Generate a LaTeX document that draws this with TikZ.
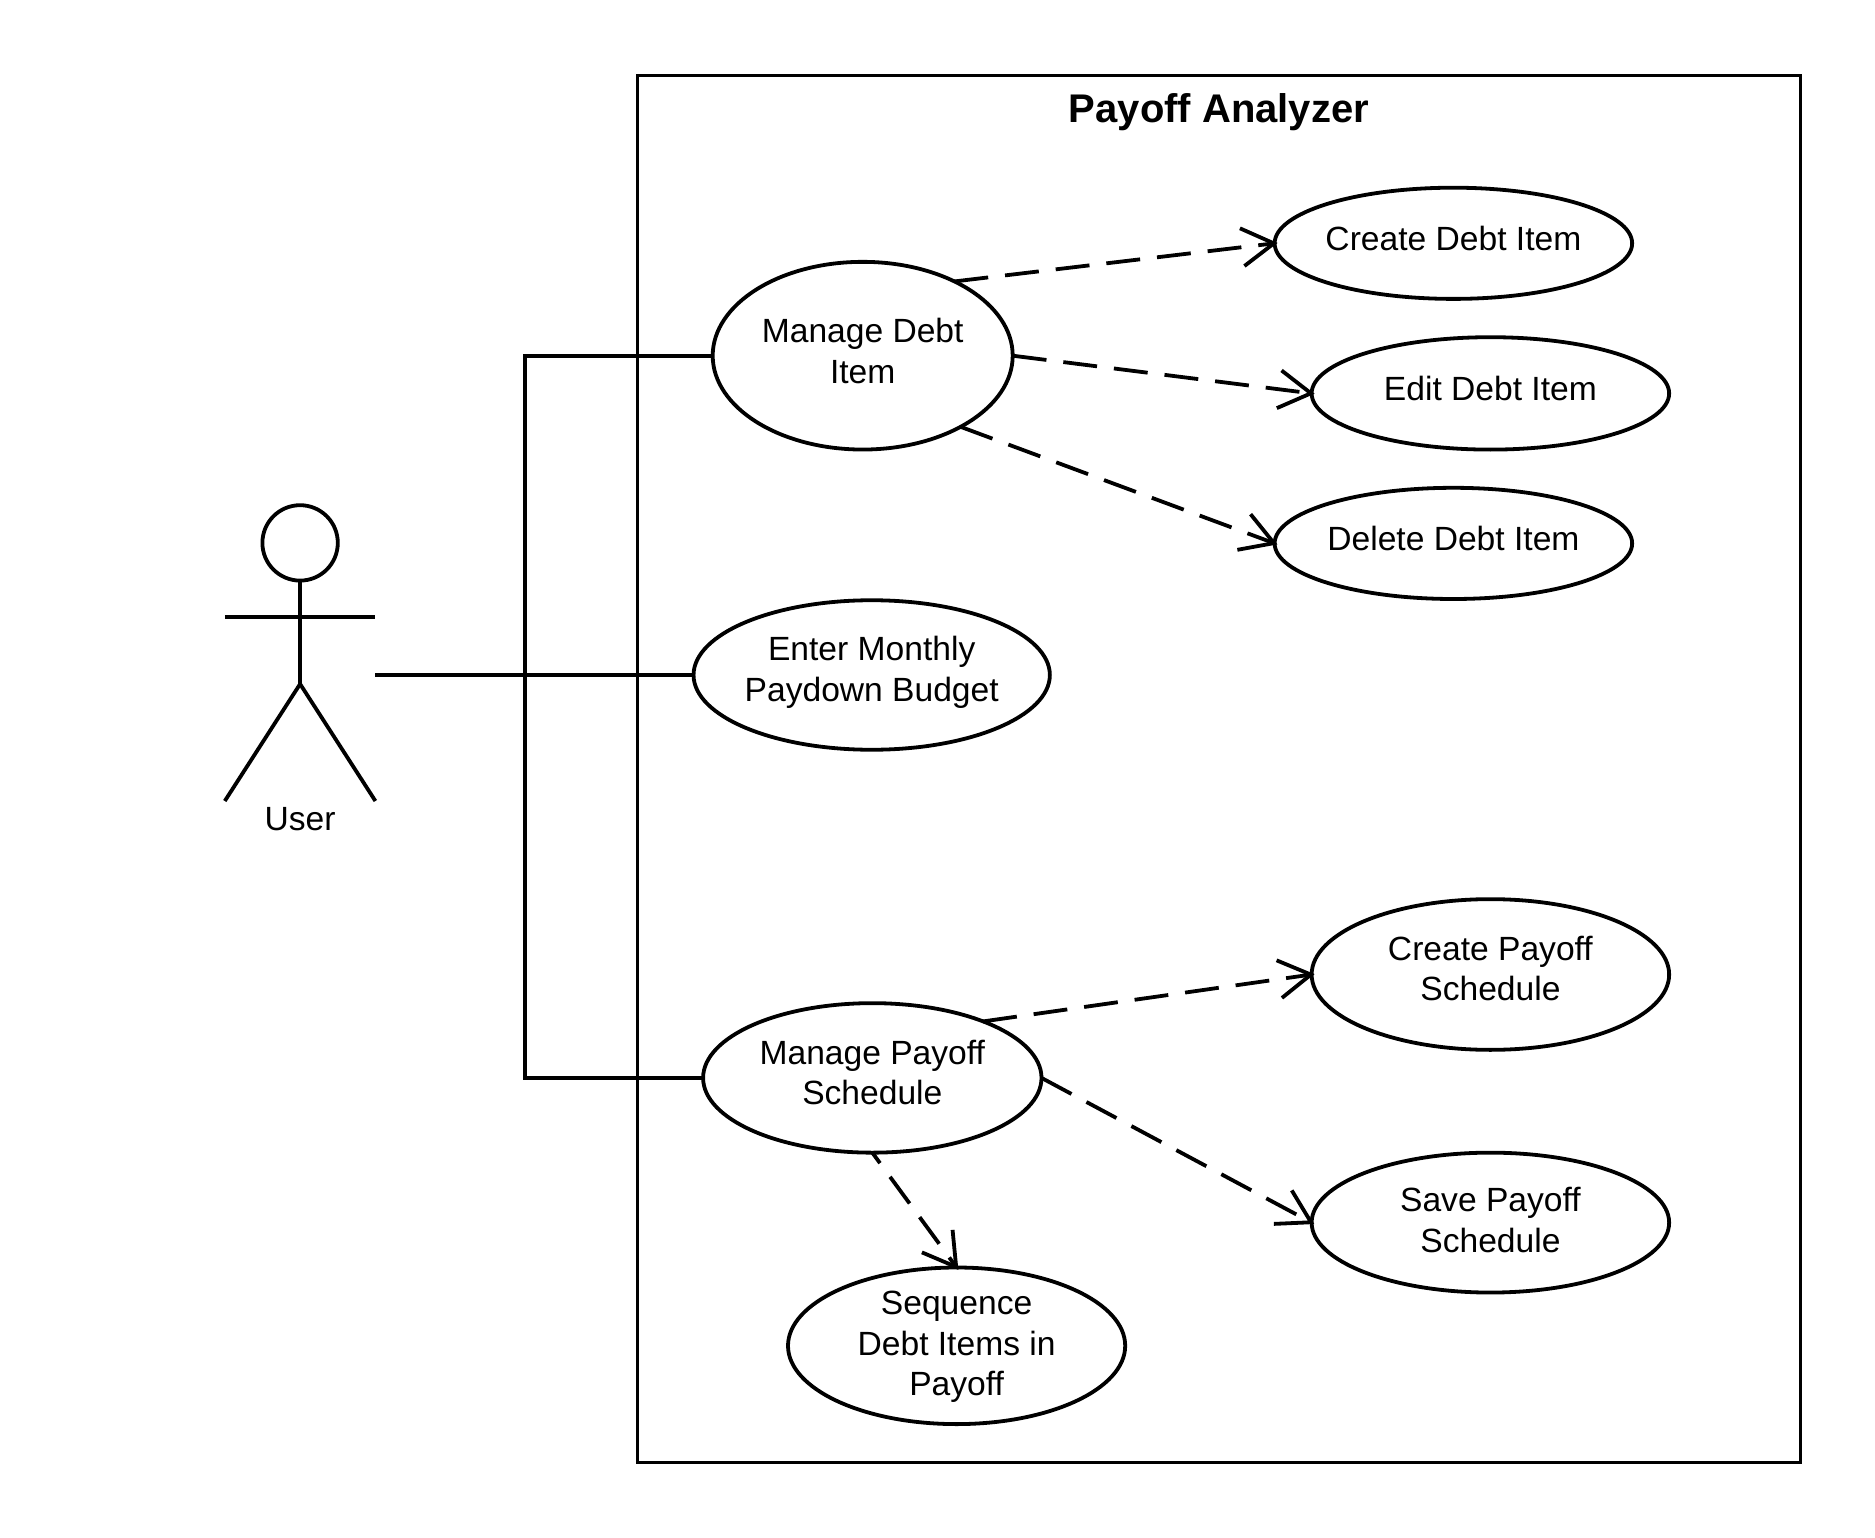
\documentclass[tikz,border=0pt]{standalone}
\usepackage{fontspec}
\setmainfont{Liberation Sans}
\usetikzlibrary{shapes.geometric,arrows.meta}
\newcommand\uctext[2]{\vbox{\hbox{\begin{tabular}{@{}c@{}}#2\end{tabular}}\kern#1}}
\tikzset{
  usecase/.style={ellipse,draw,line width=3.8pt,inner sep=-45pt,outer sep=0pt,font=\fontsize{33.6pt}{40.6pt}\selectfont},
  depends/.style={line width=3.8pt,dash pattern=on 34pt off 17pt,shorten >=-3pt,-{Straight Barb[length=32pt,width=38pt,line width=3.8pt]}},
  assoc/.style={line width=3.8pt},
}
\begin{document}
\begin{tikzpicture}[x=1pt,y=-1pt]
\useasboundingbox (0,0) rectangle (1875,1538);
\node[draw,line width=3.2pt,rectangle,inner sep=0pt,outer sep=0pt,minimum width=1163.4pt,minimum height=1387pt] (frame) at (1219,768.8) {};
\node[font=\fontsize{40pt}{48pt}\selectfont\bfseries] (title) at (1218.9,112.5) {Payoff Analyzer};

\node[usecase,minimum width=357.5pt,minimum height=111.2pt] (cdebt) at (1453.4,243.3) {\uctext{2pt}{Create Debt Item}};
\node[usecase,minimum width=357.5pt,minimum height=112.4pt] (edebt) at (1490.4,393.4) {\uctext{2pt}{Edit Debt Item}};
\node[usecase,minimum width=357.5pt,minimum height=111.2pt] (ddebt) at (1453.4,543.4) {\uctext{2pt}{Delete Debt Item}};
\node[usecase,minimum width=300pt,minimum height=187.7pt] (mdebt) at (862.7,355.7) {\uctext{2pt}{Manage Debt\\Item}};
\node[usecase,minimum width=356.3pt,minimum height=149.5pt] (enter) at (871.7,675) {\uctext{4.8pt}{Enter Monthly\\Paydown Budget}};
\node[usecase,minimum width=338.4pt,minimum height=149.5pt] (mpay) at (872.3,1077.9) {\uctext{3pt}{Manage Payoff\\Schedule}};
\node[usecase,minimum width=357.5pt,minimum height=150.7pt] (cpay) at (1490.4,974.5) {\uctext{4pt}{Create Payoff\\Schedule}};
\node[usecase,minimum width=357.5pt,minimum height=139.9pt] (spay) at (1490.4,1222.6) {\uctext{-2.4pt}{Save Payoff\\Schedule}};
\node[usecase,minimum width=337.2pt,minimum height=156.6pt] (seq) at (956.6,1345.8) {\uctext{-2.4pt}{Sequence\\Debt Items in\\Payoff}};

% actor
\node[circle,draw,line width=3.8pt,inner sep=0pt,outer sep=0pt,minimum size=75.4pt] (head) at (300.1,542.9) {};
\coordinate (hip) at (300.1,684);
\coordinate (armL) at (224.8,617);
\coordinate (armR) at (375.4,617);
\coordinate (footL) at (224.8,801);
\coordinate (footR) at (375.4,801);
\node[font=\fontsize{33.6pt}{40.6pt}\selectfont] (user) at (300.1,819.5) {User};
\draw[assoc] (head.south) -- (hip);
\draw[assoc] (armL) -- (armR);
\draw[assoc] (footL) -- (hip) -- (footR);

% associations
\coordinate (port) at (375.4,675);
\coordinate (junction) at (524.9,675);
\draw[assoc] (port) -- (enter.west);
\draw[assoc] (mdebt.west) -| (junction);
\draw[assoc,line width=3.3pt] (mpay.west) -| (junction);

% dependencies
\draw[depends] (mdebt.39.2) -- (cdebt.west);
\draw[depends] (mdebt.east) -- (edebt.west);
\draw[depends] (mdebt.-36.9) -- (ddebt.west);
\draw[depends] (mpay.27.2) -- (cpay.west);
\draw[depends] (mpay.east) -- (spay.west);
\draw[depends,dash pattern=on 33pt off 17pt,dash phase=20pt] (mpay.south) -- (seq.north);
\end{tikzpicture}
\end{document}
